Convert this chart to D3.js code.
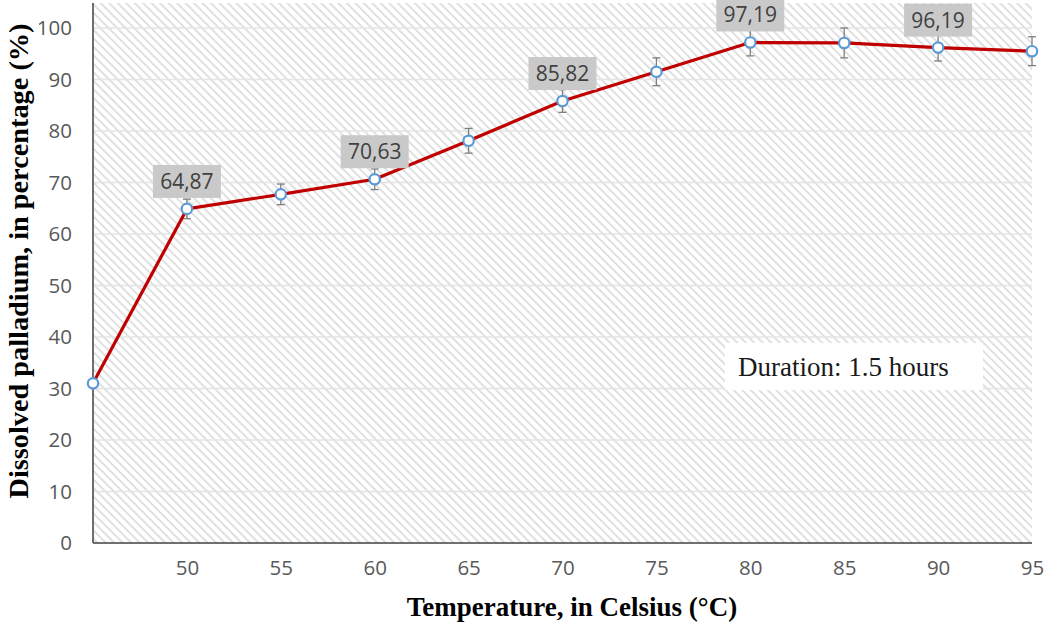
<!DOCTYPE html>
<html>
<head>
<meta charset="utf-8">
<script src="https://cdn.jsdelivr.net/npm/d3@7"></script>
<style>
  html, body { margin: 0; padding: 0; background: #ffffff; }
  svg { display: block; }
</style>
</head>
<body>
<svg id="chart" width="1045" height="623"></svg>
<script>
// Dissolved palladium vs. temperature (1.5 h leaching)
const temperatures = [45, 50, 55, 60, 65, 70, 75, 80, 85, 90, 95];
const dissolved    = [31.0, 64.87, 67.7, 70.63, 78.1, 85.82, 91.5, 97.19, 97.1, 96.19, 95.5];
const errorPlusMinus = [0, 1.9, 2.0, 2.0, 2.4, 2.2, 2.7, 2.6, 2.9, 2.6, 2.8];
const labelledTemps = [50, 60, 70, 80, 90];
const xTickValues = [50, 55, 60, 65, 70, 75, 80, 85, 90, 95];
const yTickValues = [0, 10, 20, 30, 40, 50, 60, 70, 80, 90, 100];

const svg = d3.select("#chart");
const plot = { left: 93, right: 1032, top: 3, bottom: 543 };

const x = d3.scaleLinear().domain([45, 95]).range([plot.left, plot.right]);
const y = d3.scaleLinear().domain([0, 100]).range([plot.bottom, 28]);

const tickFont = "Open Sans, Lato, sans-serif";
const titleFont = "Liberation Serif, Times New Roman, serif";

// diagonal hatch fill for the plot area
const defs = svg.append("defs");
const pat = defs.append("pattern")
  .attr("id", "hatch")
  .attr("patternUnits", "userSpaceOnUse")
  .attr("width", 6).attr("height", 6)
  .attr("patternTransform", "rotate(45)");
pat.append("rect").attr("width", 6).attr("height", 6).attr("fill", "#ffffff");
pat.append("line")
  .attr("x1", 0).attr("y1", 3).attr("x2", 6).attr("y2", 3)
  .attr("stroke", "#d9d9d9").attr("stroke-width", 1.6);

svg.append("rect")
  .attr("x", plot.left).attr("y", plot.top)
  .attr("width", plot.right - plot.left)
  .attr("height", plot.bottom - plot.top)
  .attr("fill", "url(#hatch)");

// horizontal gridlines
svg.append("g")
  .selectAll("line")
  .data(yTickValues.filter(d => d > 0))
  .join("line")
  .attr("x1", plot.left).attr("x2", plot.right)
  .attr("y1", d => y(d)).attr("y2", d => y(d))
  .attr("stroke", "#e4e4e4").attr("stroke-width", 1.3);

// y axis
const yAxis = svg.append("g")
  .attr("transform", `translate(${plot.left},0)`)
  .call(d3.axisLeft(y).tickValues(yTickValues).tickSize(0).tickPadding(21));
yAxis.select(".domain").remove();
yAxis.selectAll("text")
  .attr("font-family", tickFont)
  .attr("font-size", 20.5).attr("fill", "#595959");
svg.append("line")
  .attr("x1", plot.left).attr("x2", plot.left)
  .attr("y1", plot.top).attr("y2", plot.bottom)
  .attr("stroke", "#404040").attr("stroke-width", 1.5);

// x axis
const xAxis = svg.append("g")
  .attr("transform", `translate(0,${plot.bottom})`)
  .call(d3.axisBottom(x).tickValues(xTickValues).tickSize(0).tickPadding(17));
xAxis.select(".domain").remove();
xAxis.selectAll("text")
  .attr("font-family", tickFont)
  .attr("font-size", 20.5).attr("fill", "#595959");
svg.append("line")
  .attr("x1", plot.left).attr("x2", plot.right)
  .attr("y1", plot.bottom).attr("y2", plot.bottom)
  .attr("stroke", "#404040").attr("stroke-width", 1.5);

// axis titles
svg.append("text")
  .attr("x", 572).attr("y", 616)
  .attr("text-anchor", "middle")
  .attr("font-family", titleFont)
  .attr("font-weight", "bold").attr("font-size", 27).attr("fill", "#000")
  .text("Temperature, in Celsius (°C)");
svg.append("text")
  .attr("transform", "translate(28,261) rotate(-90)")
  .attr("text-anchor", "middle")
  .attr("font-family", titleFont)
  .attr("font-weight", "bold").attr("font-size", 28.3).attr("fill", "#000")
  .text("Dissolved palladium, in percentage (%)");

const points = temperatures.map((t, i) => ({ t, v: dissolved[i], e: errorPlusMinus[i] }));

// error bars
const eb = svg.append("g").attr("stroke", "#7f7f7f").attr("stroke-width", 1.3);
points.filter(p => p.e > 0).forEach(p => {
  const cx = x(p.t);
  eb.append("line").attr("x1", cx).attr("x2", cx)
    .attr("y1", y(p.v + p.e)).attr("y2", y(p.v - p.e));
  [p.v + p.e, p.v - p.e].forEach(v => {
    eb.append("line").attr("x1", cx - 4).attr("x2", cx + 4)
      .attr("y1", y(v)).attr("y2", y(v));
  });
});

// line
svg.append("path")
  .datum(points)
  .attr("fill", "none")
  .attr("stroke", "#c00000")
  .attr("stroke-width", 3.2)
  .attr("stroke-linejoin", "round")
  .attr("d", d3.line().x(d => x(d.t)).y(d => y(d.v)));

// markers
svg.append("g")
  .selectAll("circle")
  .data(points)
  .join("circle")
  .attr("cx", d => x(d.t)).attr("cy", d => y(d.v))
  .attr("r", 5.2)
  .attr("fill", "#ffffff")
  .attr("stroke", "#5b9bd5")
  .attr("stroke-width", 2.2);

// data labels
const fmt = v => v.toFixed(2).replace(".", ",");
const lab = svg.append("g");
points.filter(p => labelledTemps.includes(p.t)).forEach(p => {
  const cx = x(p.t), cy = y(p.v);
  const w = 68, h = 33;
  lab.append("rect")
    .attr("x", cx - w / 2).attr("y", cy - 44)
    .attr("width", w).attr("height", h)
    .attr("fill", "#c9c9c9");
  lab.append("text")
    .attr("x", cx).attr("y", cy - 20)
    .attr("text-anchor", "middle")
    .attr("font-family", tickFont)
    .attr("font-size", 21).attr("fill", "#404040")
    .text(fmt(p.v));
});

// duration note
svg.append("rect")
  .attr("x", 725).attr("y", 343).attr("width", 258).attr("height", 47)
  .attr("fill", "#ffffff");
svg.append("text")
  .attr("x", 738).attr("y", 376)
  .attr("font-family", titleFont)
  .attr("font-size", 27).attr("fill", "#1a1a1a")
  .text("Duration: 1.5 hours");
</script>
</body>
</html>
